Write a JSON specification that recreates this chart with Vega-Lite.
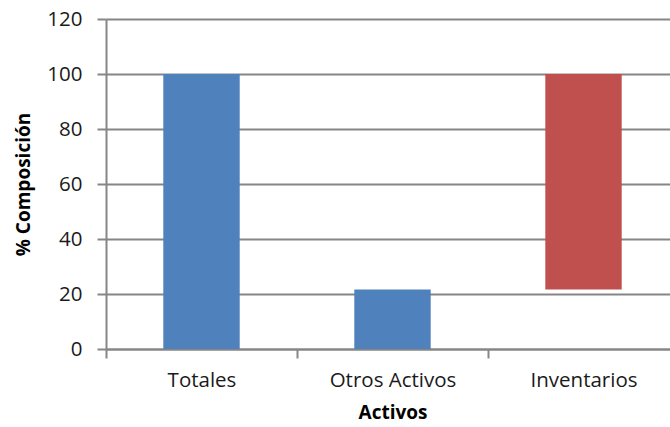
{
  "$schema": "https://vega.github.io/schema/vega-lite/v6.json",
  "autosize": "none",
  "width": 573,
  "height": 330,
  "padding": {"left": 106, "top": 19, "right": 0, "bottom": 78},
  "background": "white",
  "data": {"values": [
    {"cat": "Totales", "start": 0, "end": 100, "tipo": "total"},
    {"cat": "Otros Activos", "start": 0, "end": 21.6, "tipo": "total"},
    {"cat": "Inventarios", "start": 21.6, "end": 100, "tipo": "inv"}
  ]},
  "mark": {"type": "bar", "width": {"band": 0.4}},
  "encoding": {
    "x": {
      "field": "cat", "type": "nominal", "sort": null,
      "scale": {"paddingInner": 0, "paddingOuter": 0},
      "axis": {
        "title": "Activos", "labelAngle": 0, "tickBand": "extent", "grid": false,
        "domainColor": "#868686", "domainWidth": 2, "tickColor": "#868686", "tickWidth": 2, "tickSize": 9,
        "labelFont": "Open Sans", "labelFontSize": 20.5, "labelColor": "#1a1a1a", "labelPadding": 12,
        "titleFont": "Open Sans", "titleFontSize": 19, "titleFontWeight": "bold", "titleColor": "#000000", "titlePadding": 13
      }
    },
    "y": {
      "field": "start", "type": "quantitative",
      "scale": {"domain": [0, 120], "nice": false},
      "axis": {
        "title": "% Composición", "values": [0, 20, 40, 60, 80, 100, 120],
        "grid": true, "gridColor": "#868686", "gridWidth": 2,
        "domainColor": "#868686", "domainWidth": 2, "tickColor": "#868686", "tickWidth": 2, "tickSize": 9,
        "labelFont": "Open Sans", "labelFontSize": 20.5, "labelColor": "#1a1a1a", "labelPadding": 15,
        "titleFont": "Open Sans", "titleFontSize": 19, "titleFontWeight": "bold", "titleColor": "#000000", "titlePadding": 13
      }
    },
    "y2": {"field": "end"},
    "color": {
      "field": "tipo", "type": "nominal", "legend": null,
      "scale": {"domain": ["total", "inv"], "range": ["#4F81BD", "#C0504D"]}
    }
  },
  "config": {"view": {"stroke": null}}
}
